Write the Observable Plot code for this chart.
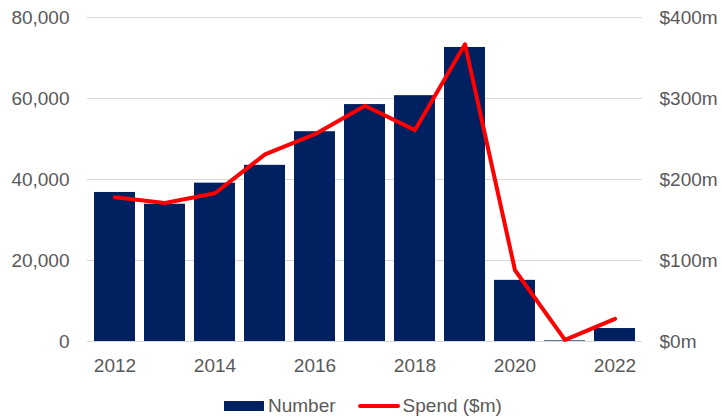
<!DOCTYPE html>
<html>
<head>
<meta charset="utf-8">
<script src="https://cdn.jsdelivr.net/npm/d3@7"></script>
<script src="https://cdn.jsdelivr.net/npm/@observablehq/plot@0.6"></script>
<style>
  html, body { margin: 0; padding: 0; background: #fff; }
  body { width: 722px; height: 420px; position: relative; overflow: hidden;
         font-family: "Liberation Sans", Arial, sans-serif; }
  #chart { position: absolute; left: 0; top: 0; }
  #legend { position: absolute; left: 224px; top: 394px; display: flex; align-items: center;
            font-size: 19px; color: #595959; height: 24px; white-space: nowrap; }
  .sw-bar { width: 40px; height: 10px; background: #002060; margin-right: 4px; }
  .sw-line { width: 42px; height: 4px; background: #ff0000; border-radius: 2px; margin-left: 22px; margin-right: 3px; }
</style>
</head>
<body>
<div id="chart"></div>
<div id="legend">
  <span class="sw-bar"></span><span>Number</span>
  <span class="sw-line"></span><span>Spend ($m)</span>
</div>
<script>
const years = ["2012","2013","2014","2015","2016","2017","2018","2019","2020","2021","2022"];
const number = [36800, 33900, 39100, 43500, 51800, 58500, 60700, 72600, 15100, 150, 3200];
const spend = [178, 171, 183, 231, 256, 291, 261, 367, 88, 2, 28];
const leftTicks = [0, 20000, 40000, 60000, 80000];
const xTickYears = ["2012","2014","2016","2018","2020","2022"];

const ratio = 80000 / 400;
const data = years.map((y, i) => ({year: y, number: number[i], spend: spend[i]}));

const chart = Plot.plot({
  width: 722,
  height: 390,
  marginTop: 17,
  marginBottom: 49,
  marginLeft: 87,
  marginRight: 80,
  style: {fontFamily: "'Liberation Sans', Arial, sans-serif", fontSize: "19px", color: "#595959", background: "#fff"},
  x: {domain: years, paddingInner: 0.19, paddingOuter: 0.095, axis: null, label: null},
  y: {domain: [0, 80000], axis: null, label: null},
  marks: [
    Plot.gridY(leftTicks, {stroke: "#d9d9d9", strokeOpacity: 1, strokeWidth: 1}),
    Plot.barY(data, {x: "year", y: "number", fill: "#002060"}),
    Plot.lineY(data, {x: "year", y: d => d.spend * ratio, stroke: "#ff0000", strokeWidth: 4, strokeLinejoin: "round", strokeLinecap: "round"}),
    Plot.axisY(leftTicks, {anchor: "left", label: null, tickSize: 0, tickPadding: 18, tickFormat: d3.format(","), fill: "#595959"}),
    Plot.axisY(leftTicks, {anchor: "right", label: null, tickSize: 0, tickPadding: 17, tickFormat: d => `$${d / ratio}m`, fill: "#595959"}),
    Plot.axisX(xTickYears, {anchor: "bottom", label: null, tickSize: 0, tickPadding: 17, fill: "#595959"})
  ]
});
document.getElementById("chart").appendChild(chart);
</script>
</body>
</html>
